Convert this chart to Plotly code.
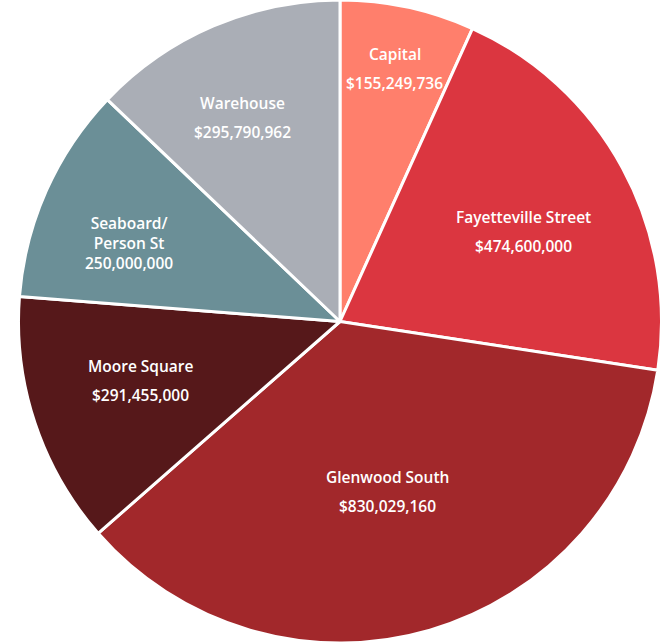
import math
import plotly.graph_objects as go

# Downtown district investment totals
districts = ["Capital", "Fayetteville Street", "Glenwood South", "Moore Square",
             "Seaboard/<br>Person St", "Warehouse"]
amounts = [155249736, 474600000, 830029160, 291455000, 250000000, 295790962]
amount_labels = ["$155,249,736", "$474,600,000", "$830,029,160", "$291,455,000",
                 "250,000,000", "$295,790,962"]

colors = ["#FF7F6C", "#DB3640", "#A2282B", "#56181A", "#6B8F97", "#AAAEB6"]
# label placement: fraction of radius along the slice bisector, plus a pixel nudge
label_radius = [0.81, 0.65, 0.545, 0.64, 0.70, 0.70]
label_nudge = [(0, 2), (0, 10), (-2, 2), (-4, -6), (-5, 13), (-9, 3)]

W, H = 664, 643
cx, cy = 340, H / 2
R = H / 2

fig = go.Figure(go.Pie(
    labels=districts,
    values=amounts,
    sort=False,
    direction="clockwise",
    rotation=0,
    marker=dict(colors=colors, line=dict(color="white", width=3)),
    textinfo="none",
    hoverinfo="label+value",
    domain=dict(x=[(cx - R) / W, (cx + R) / W], y=[0, 1]),
    showlegend=False,
))

font = dict(family="Open Sans", size=15.5, color="white", weight=600)
total = sum(amounts)
start = 0.0
annotations = []
for name, val, vlab, rf, (nx, ny) in zip(districts, amounts, amount_labels,
                                          label_radius, label_nudge):
    span = val / total * 360
    mid = math.radians(start + span / 2)
    start += span
    px = cx + rf * R * math.sin(mid) + nx
    py = cy - rf * R * math.cos(mid) + ny
    x, y = px / W, 1 - py / H
    common = dict(x=x, y=y, xref="paper", yref="paper", xanchor="center",
                  yanchor="middle", showarrow=False, font=font, align="center")
    if "<br>" in name:
        annotations.append(dict(text=name + "<br>" + vlab, **common))
    else:
        annotations.append(dict(text=name, yshift=14.5, **common))
        annotations.append(dict(text=vlab, yshift=-14.5, **common))

fig.update_layout(
    width=W, height=H,
    margin=dict(l=0, r=0, t=0, b=0),
    paper_bgcolor="white",
    plot_bgcolor="white",
    annotations=annotations,
)

fig.write_html("out.html")
